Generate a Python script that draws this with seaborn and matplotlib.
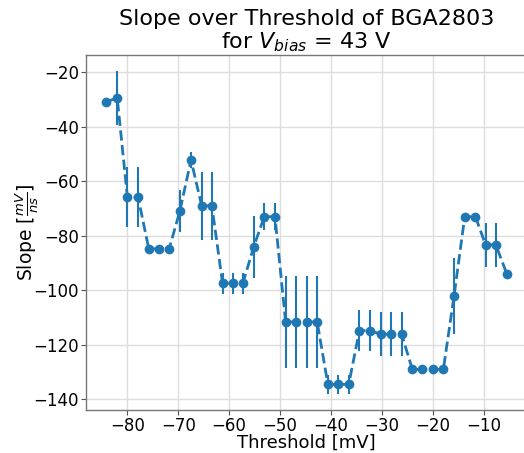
import matplotlib
matplotlib.use("Agg")
import matplotlib.pyplot as plt
import seaborn as sns
import pandas as pd

# Threshold scan of the BGA2803 amplifier at 43 V bias
threshold = [-84.2, -82.0, -80.0, -77.9, -75.8, -73.8, -71.8, -69.7, -67.5, -65.4,
             -63.4, -61.3, -59.3, -57.3, -55.2, -53.1, -51.0, -48.9, -46.9, -44.8,
             -42.7, -40.6, -38.6, -36.5, -34.4, -32.3, -30.2, -28.2, -26.1, -24.0,
             -22.0, -19.9, -17.9, -15.8, -13.7, -11.6, -9.6, -7.6, -5.4]
slope = [-30.8, -29.5, -65.9, -65.9, -84.8, -84.8, -84.8, -71.0, -52.2, -69.0,
         -69.0, -97.4, -97.4, -97.4, -84.2, -73.0, -73.0, -111.6, -111.6, -111.6,
         -111.6, -134.5, -134.5, -134.5, -114.8, -114.8, -116.1, -116.1, -116.1, -129.0,
         -129.0, -129.0, -129.0, -102.1, -73.0, -73.0, -83.3, -83.3, -94.1]
slope_err = [0.0, 9.9, 11.0, 11.0, 0.5, 0.5, 0.5, 7.7, 3.0, 12.5,
             12.5, 3.8, 3.8, 3.8, 11.4, 5.0, 5.0, 17.0, 17.0, 17.0,
             17.0, 3.5, 3.5, 3.5, 7.6, 7.6, 8.0, 8.0, 8.0, 0.5,
             0.5, 0.5, 0.5, 14.0, 1.5, 1.5, 8.0, 8.0, 1.5]

df = pd.DataFrame({"threshold": threshold, "slope": slope, "err": slope_err})

sns.set_style("whitegrid")
plt.rcParams["font.family"] = ["DejaVu Sans"]
plt.rcParams["text.color"] = "black"
plt.rcParams["axes.labelcolor"] = "black"
plt.rcParams["xtick.color"] = "black"
plt.rcParams["ytick.color"] = "black"

color = "#1f77b4"
fig = plt.figure(figsize=(5.24, 4.53), dpi=100)
ax = fig.add_axes([86 / 524, 1 - 410 / 453, (527 - 86) / 524, (410 - 55) / 453])

ax.errorbar(df["threshold"], df["slope"], yerr=df["err"], fmt="none",
            ecolor=color, elinewidth=1.5, zorder=2)
sns.lineplot(data=df, x="threshold", y="slope", ax=ax, color=color,
             linestyle="--", linewidth=2.0, marker="o", markersize=7,
             markeredgewidth=0, sort=False, zorder=3)

ax.margins(x=0.05, y=0.05)
ax.set_xticks([-80, -70, -60, -50, -40, -30, -20, -10])
ax.set_yticks([-140, -120, -100, -80, -60, -40, -20])
ax.tick_params(axis="both", labelsize=12, length=3.5, pad=1.5,
               left=True, bottom=True)
ax.tick_params(axis="both", which="major", color="#555555")
ax.grid(True, color="#dddddd", linewidth=1.0)
for side in ax.spines.values():
    side.set_color("#777777")
    side.set_linewidth(1.0)

ax.set_xlabel("Threshold [mV]", fontsize=13, labelpad=-1)
ax.set_ylabel(r"Slope [$\frac{mV}{ns}$]", fontsize=13.5, labelpad=-5.5)
ax.set_title("Slope over Threshold of BGA2803\nfor $V_{bias}$ = 43 V",
             fontsize=16, pad=5, linespacing=1.05)

fig.savefig("out.png", dpi=100)
